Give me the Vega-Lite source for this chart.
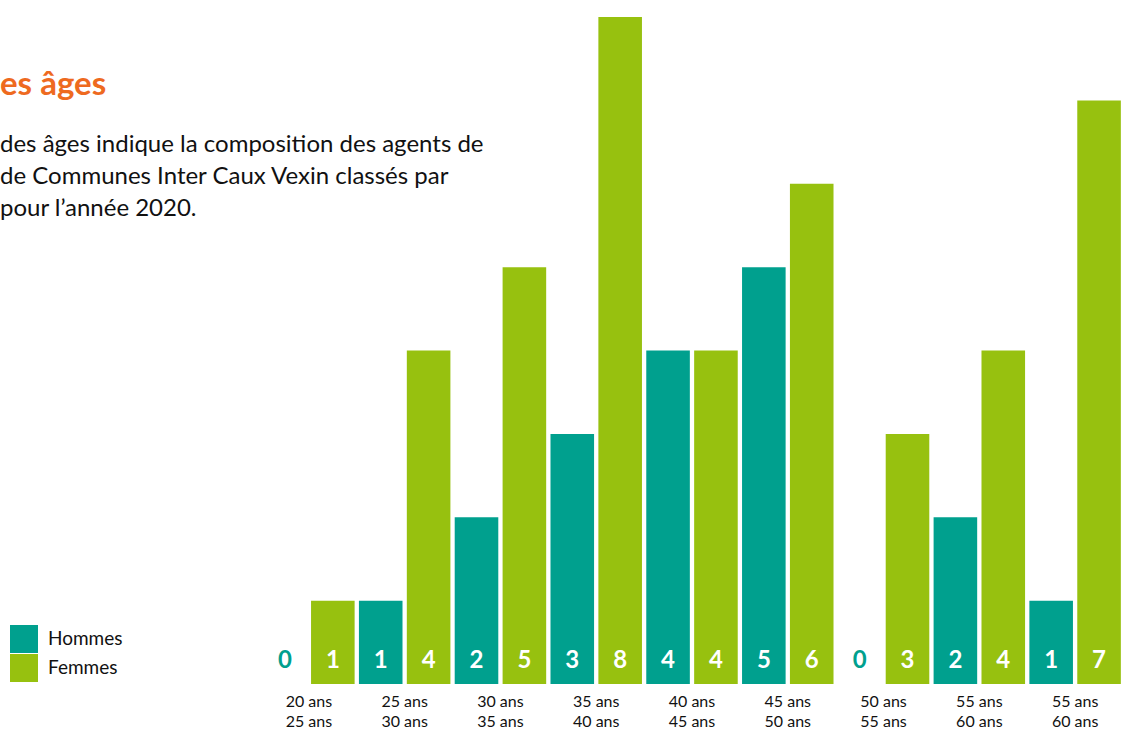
{
  "$schema": "https://vega.github.io/schema/vega-lite/v6.json",
  "width": 862,
  "height": 667,
  "autosize": {"type": "none"},
  "padding": {"left": 261, "top": 17, "right": 0, "bottom": 45},
  "background": "white",
  "config": {"view": {"stroke": null}, "font": "Lato"},
  "title": {
    "text": "es âges",
    "subtitle": ["des âges indique la composition des agents de", "de Communes Inter Caux Vexin classés par", "pour l’année 2020."],
    "anchor": "start",
    "frame": "group",
    "orient": "top",
    "dx": -261,
    "dy": 208,
    "font": "Lato",
    "fontSize": 33,
    "fontWeight": "bold",
    "color": "#EE6A1F",
    "subtitleFont": "Lato",
    "subtitleFontSize": 24,
    "subtitleColor": "#111111",
    "subtitleLineHeight": 32,
    "subtitlePadding": 31
  },
  "data": {
    "values": [
      {"g": 1, "range": "20 ans\n25 ans", "sexe": "Hommes", "n": 0},
      {"g": 1, "range": "20 ans\n25 ans", "sexe": "Femmes", "n": 1},
      {"g": 2, "range": "25 ans\n30 ans", "sexe": "Hommes", "n": 1},
      {"g": 2, "range": "25 ans\n30 ans", "sexe": "Femmes", "n": 4},
      {"g": 3, "range": "30 ans\n35 ans", "sexe": "Hommes", "n": 2},
      {"g": 3, "range": "30 ans\n35 ans", "sexe": "Femmes", "n": 5},
      {"g": 4, "range": "35 ans\n40 ans", "sexe": "Hommes", "n": 3},
      {"g": 4, "range": "35 ans\n40 ans", "sexe": "Femmes", "n": 8},
      {"g": 5, "range": "40 ans\n45 ans", "sexe": "Hommes", "n": 4},
      {"g": 5, "range": "40 ans\n45 ans", "sexe": "Femmes", "n": 4},
      {"g": 6, "range": "45 ans\n50 ans", "sexe": "Hommes", "n": 5},
      {"g": 6, "range": "45 ans\n50 ans", "sexe": "Femmes", "n": 6},
      {"g": 7, "range": "50 ans\n55 ans", "sexe": "Hommes", "n": 0},
      {"g": 7, "range": "50 ans\n55 ans", "sexe": "Femmes", "n": 3},
      {"g": 8, "range": "55 ans\n60 ans", "sexe": "Hommes", "n": 2},
      {"g": 8, "range": "55 ans\n60 ans", "sexe": "Femmes", "n": 4},
      {"g": 9, "range": "55 ans\n60 ans", "sexe": "Hommes", "n": 1},
      {"g": 9, "range": "55 ans\n60 ans", "sexe": "Femmes", "n": 7}
    ]
  },
  "layer": [
    {
      "mark": {"type": "bar"},
      "encoding": {
        "x": {"field": "g", "type": "ordinal", "axis": null, "scale": {"paddingInner": 0, "paddingOuter": 0}},
        "xOffset": {"field": "sexe", "type": "nominal", "sort": ["Hommes", "Femmes"], "scale": {"paddingInner": 0.09, "paddingOuter": 0.045}},
        "y": {"field": "n", "type": "quantitative", "axis": null, "scale": {"domain": [0, 8], "nice": false}},
        "color": {
          "field": "sexe",
          "type": "nominal",
          "sort": ["Hommes", "Femmes"],
          "scale": {"domain": ["Hommes", "Femmes"], "range": ["#00A08E", "#97C10F"]},
          "legend": {
            "title": null,
            "orient": "none",
            "legendX": -251,
            "legendY": 608,
            "symbolType": "square",
            "symbolSize": 784,
            "symbolStrokeWidth": 0,
            "symbolOpacity": 1,
            "labelFont": "Lato",
            "labelFontSize": 19,
            "labelColor": "#111111",
            "labelOffset": 10,
            "rowPadding": 1
          }
        }
      }
    },
    {
      "mark": {"type": "text", "font": "Lato", "fontSize": 24, "fontWeight": "bold", "baseline": "middle", "dy": -23},
      "encoding": {
        "x": {"field": "g", "type": "ordinal", "axis": null},
        "xOffset": {"field": "sexe", "type": "nominal", "sort": ["Hommes", "Femmes"]},
        "y": {"datum": 0, "type": "quantitative"},
        "text": {"field": "n", "type": "quantitative"},
        "color": {"condition": {"test": "datum.n == 0", "value": "#00A08E"}, "value": "white"}
      }
    },
    {
      "transform": [{"filter": "datum.sexe == 'Hommes'"}],
      "mark": {"type": "text", "font": "Lato", "fontSize": 16, "baseline": "top", "dy": 10, "lineBreak": "\n", "lineHeight": 19.5, "color": "#111111"},
      "encoding": {
        "x": {"field": "g", "type": "ordinal", "axis": null},
        "y": {"datum": 0, "type": "quantitative"},
        "text": {"field": "range", "type": "nominal"}
      }
    }
  ]
}
